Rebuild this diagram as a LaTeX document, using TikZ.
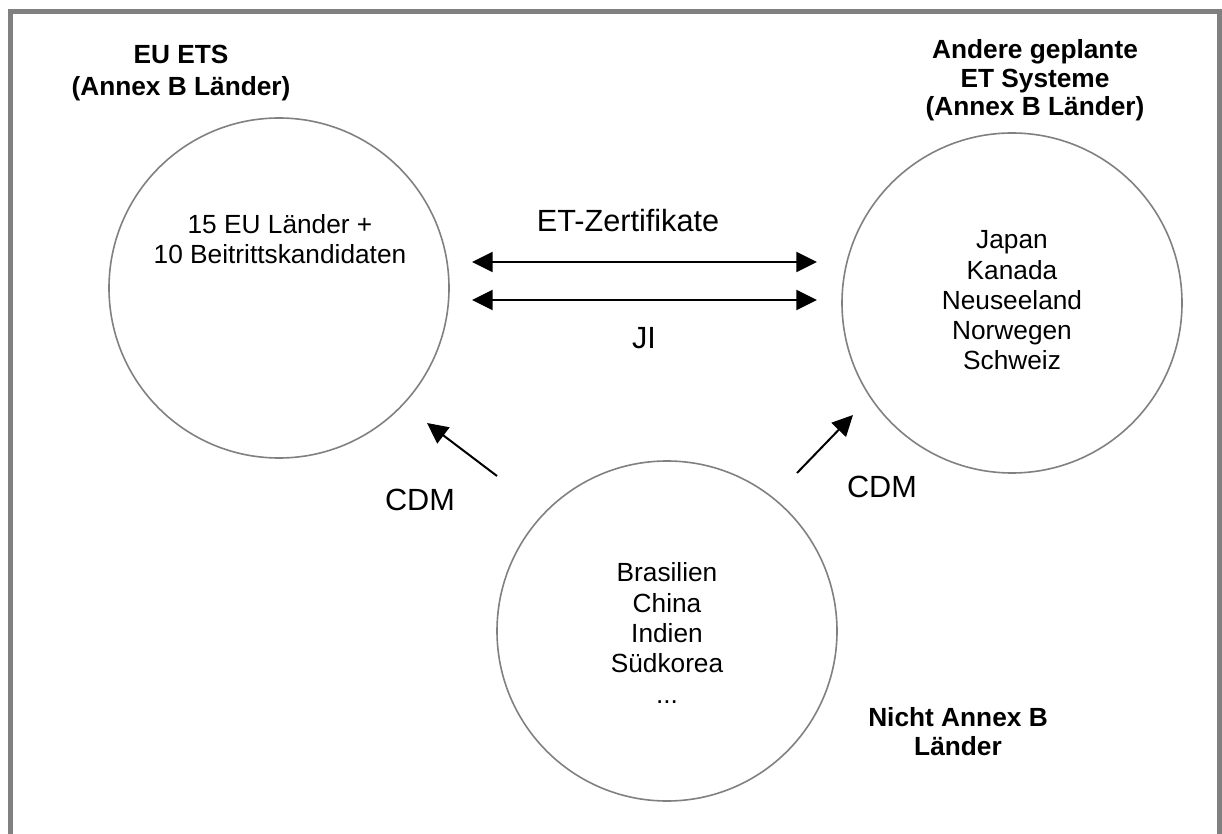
\documentclass[tikz,border=0pt]{standalone}
\usepackage{fontspec}
\setmainfont{Liberation Sans}
\usetikzlibrary{arrows.meta,positioning}
\tikzstyle{land} = [circle, draw=black!50, line width=1.2pt, minimum size=255pt, inner sep=0pt]
\tikzstyle{liste} = [align=center, anchor=base, font=\fontsize{19.7}{22.7}\selectfont]
\tikzstyle{titel} = [align=center, anchor=base, font=\fontsize{19.7}{21.5}\selectfont\bfseries]
\tikzstyle{fluss} = [anchor=base, font=\fontsize{23}{27}\selectfont]

\begin{document}
\begin{tikzpicture}[x=0.75pt, y=-0.75pt, >={Triangle[length=15.5pt,width=15pt]}]
        \useasboundingbox (0,0) rectangle (1222,834);
        % Rahmen, unten offen
        \draw[black!50, line width=3.75pt] (10.5,834) -- (10.5,12) -- (1219.5,12) -- (1219.5,834);

        \node[land] (eu) at (279,288) {};
        \node[land] (andere) at (1012,303) {};
        \node[land] (nichtb) at (667,631) {};

        % anchor=base liegt hier auf der letzten Zeile
        \node[titel, font=\fontsize{19.7}{24}\selectfont\bfseries] (eutitel) at (181,96) {EU ETS\\(Annex B Länder)};
        \node[titel] (anderetitel) at (1035,116) {Andere geplante\\ET Systeme\\(Annex B Länder)};
        \node[titel] (nichtbtitel) at (958,755) {Nicht Annex B\\Länder};

        \node[liste] (eutext) at (280,264) {15 EU Länder +\\10 Beitrittskandidaten};
        \node[liste] (anderetext) at (1012,370) {Japan\\Kanada\\Neuseeland\\Norwegen\\Schweiz};
        \node[liste] (nichtbtext) at (667,703) {Brasilien\\China\\Indien\\Südkorea\\...};

        \coordinate (etL) at (472,262);
        \coordinate (etR) at (817,262);
        \coordinate (jiL) at (472,300);
        \coordinate (jiR) at (817,300);
        \coordinate (cdmLa) at (497,476);
        \coordinate (cdmLb) at (427,423);
        \coordinate (cdmRa) at (797,473);
        \coordinate (cdmRb) at (853,415);

        \draw[<->, line width=1.5pt] (etL) -- (etR);
        \draw[<->, line width=1.5pt] (jiL) -- (jiR);
        \draw[->, line width=1.5pt] (cdmLa) -- (cdmLb);
        \draw[->, line width=1.5pt] (cdmRa) -- (cdmRb);

        \node[fluss] (et) at (628,232) {ET-Zertifikate};
        \node[fluss] (ji) at (644,349) {JI};
        \node[fluss] (cdmL) at (420,510) {CDM};
        \node[fluss] (cdmR) at (882,498) {CDM};
    \end{tikzpicture}
\end{document}
